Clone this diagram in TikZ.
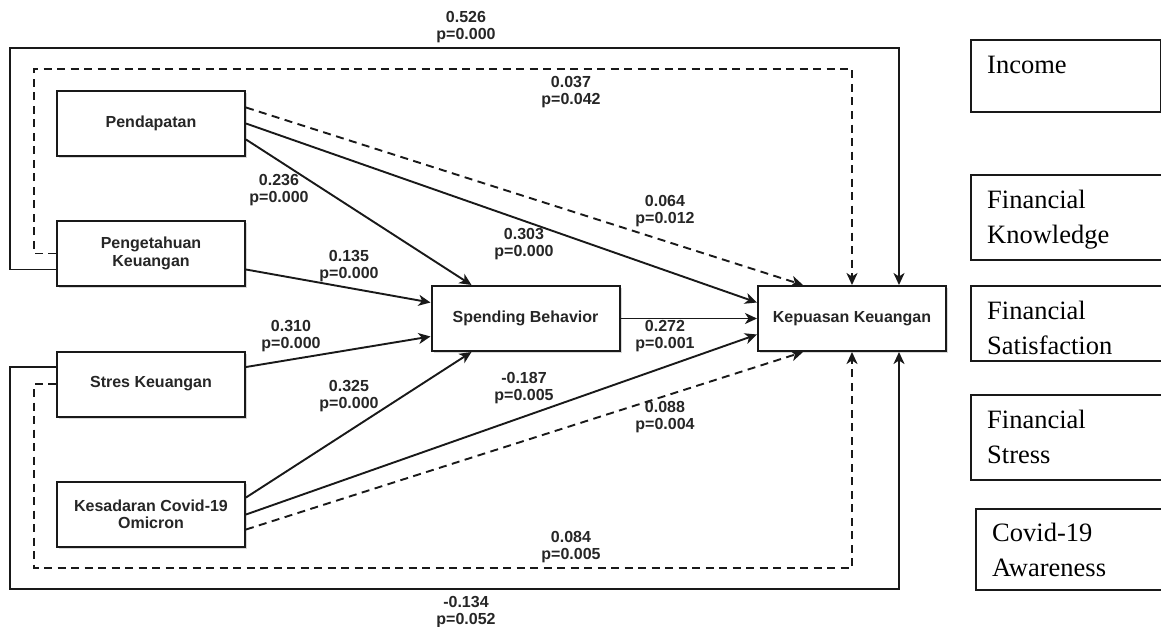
\documentclass[tikz,border=0pt]{standalone}
\usepackage{fontspec}
\setmainfont{Liberation Sans}
\newfontfamily\legfont{Liberation Serif}
\usetikzlibrary{arrows.meta,shadows}
\tikzset{
  box/.style  = {
    draw=black!90, line width=2pt, fill=white,
    minimum width=188pt, minimum height=65pt, align=center,
    font=\fontsize{16}{17.5}\selectfont\bfseries, text=black!85,
    drop shadow={shadow xshift=2pt, shadow yshift=-2pt, fill=black!30}
  },
  lnk/.style  = {draw=black!90, line width=1.9pt, -{Stealth[length=12pt,width=11pt,inset=3.5pt]}},
  dlnk/.style = {lnk, dash pattern=on 8pt off 5.5pt}, % dashed paths
  coef/.style = {align=center, font=\fontsize{16}{17.5}\selectfont\bfseries, text=black!85},
  legbox/.style = {draw=black!90, line width=1.6pt, anchor=north west, minimum width=200pt},
  legtxt/.style = {anchor=north west, inner sep=0pt, align=left, font=\legfont\fontsize{26.5}{35}\selectfont}
}
\begin{document}
\begin{tikzpicture}[x=1pt,y=-1pt]
\useasboundingbox[fill=white] (0,0) rectangle (1161,626);
% constructs
\node[box] (pend)  at (151,123.5) {Pendapatan};
\node[box] (peng)  at (151,253.5) {Pengetahuan\\Keuangan};
\node[box] (stres) at (151,384)   {Stres Keuangan};
\node[box] (kes)   at (151,514.5) {Kesadaran Covid-19\\Omicron};
\node[box] (spend) at (525.5,318.5) {Spending Behavior};
\node[box] (kep)   at (852,318.5) {Kepuasan Keuangan};
% corners of the outer loops
\coordinate (otl) at (10,48);
\coordinate (dtl) at (34,69);
\coordinate (obl) at (10,589);
\coordinate (dbl) at (34,568);
\draw[lnk]  ([yshift=-16pt]peng.west) -| (otl) -| ([xshift=47pt]kep.north);
\draw[dlnk] (peng.west) -| (dtl) -| (kep.north);
\draw[lnk]  ([yshift=17pt]stres.west) -| (obl) -| ([xshift=47pt]kep.south);
\draw[dlnk] (stres.west) -| (dbl) -| (kep.south);
% direct paths
\draw[lnk]  (pend.east) -- ([yshift=16pt]kep.west);
\draw[lnk]  ([yshift=-16pt]pend.east) -- ([xshift=-54pt]spend.north);
\draw[dlnk] ([yshift=16pt]pend.east) -- ([xshift=-49pt]kep.north);
\draw[lnk]  ([yshift=-16pt]peng.east) -- ([yshift=16pt]spend.west);
\draw[lnk]  ([yshift=17pt]stres.east) -- ([yshift=-18pt]spend.west);
\draw[lnk]  ([yshift=17pt]kes.east) -- ([xshift=-54pt]spend.south);
\draw[lnk]  (kes.east) -- ([yshift=-16pt]kep.west);
\draw[dlnk] ([yshift=-15pt]kes.east) -- ([xshift=-49pt]kep.south);
\draw[lnk]  (spend.east) -- (kep.west);
% coefficients
\node[coef] (c526) at (466,27)  {0.526\\p=0.000};
\node[coef] (c037) at (571,92)  {0.037\\p=0.042};
\node[coef] (c236) at (279,190) {0.236\\p=0.000};
\node[coef] (c303) at (524,244) {0.303\\p=0.000};
\node[coef] (c135) at (349,266) {0.135\\p=0.000};
\node[coef] (c064) at (665,211) {0.064\\p=0.012};
\node[coef] (c310) at (291,336) {0.310\\p=0.000};
\node[coef] (c325) at (349,396) {0.325\\p=0.000};
\node[coef] (c187) at (524,388) {-0.187\\p=0.005};
\node[coef] (c272) at (665,336) {0.272\\p=0.001};
\node[coef] (c088) at (665,417) {0.088\\p=0.004};
\node[coef] (c084) at (571,547) {0.084\\p=0.005};
\node[coef] (c134) at (466,612) {-0.134\\p=0.052};
% legend
\node[legbox, minimum width=190pt, minimum height=72pt] (incb) at (970,39) {};
\node[legbox, minimum height=85pt] (knob) at (970,174) {};
\node[legbox, minimum height=75pt] (satb) at (970,285) {};
\node[legbox, minimum height=85pt] (strb) at (970,394) {};
\node[legbox, minimum height=81pt] (covb) at (975,508) {};
\node[legtxt] (inct) at (987,55.5) {Income};
\node[legtxt] (knot) at (987,190)  {Financial\\Knowledge};
\node[legtxt] (satt) at (987,301)  {Financial\\Satisfaction};
\node[legtxt] (strt) at (987,410)  {Financial\\Stress};
\node[legtxt] (covt) at (992,523)  {Covid-19\\Awareness};
\end{tikzpicture}
\end{document}
